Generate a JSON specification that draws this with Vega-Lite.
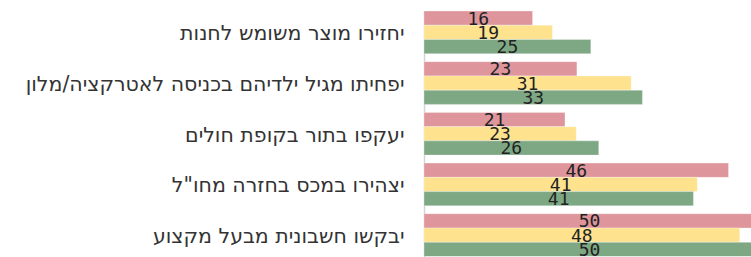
{
  "$schema": "https://vega.github.io/schema/vega-lite/v6.json",
  "autosize": "none",
  "padding": {"left": 424, "top": 11, "right": 0, "bottom": 0},
  "width": 327,
  "height": 245.5,
  "background": "white",
  "config": {"view": {"stroke": null}},
  "data": {
    "values": [
      {"item": "יחזירו מוצר משומש לחנות", "series": "1", "value": 16.4},
      {"item": "יחזירו מוצר משומש לחנות", "series": "2", "value": 19.4},
      {"item": "יחזירו מוצר משומש לחנות", "series": "3", "value": 25.2},
      {"item": "יפחיתו מגיל ילדיהם בכניסה לאטרקציה/מלון", "series": "1", "value": 23.1},
      {"item": "יפחיתו מגיל ילדיהם בכניסה לאטרקציה/מלון", "series": "2", "value": 31.3},
      {"item": "יפחיתו מגיל ילדיהם בכניסה לאטרקציה/מלון", "series": "3", "value": 33.0},
      {"item": "יעקפו בתור בקופת חולים", "series": "1", "value": 21.3},
      {"item": "יעקפו בתור בקופת חולים", "series": "2", "value": 23.0},
      {"item": "יעקפו בתור בקופת חולים", "series": "3", "value": 26.4},
      {"item": "יצהירו במכס בחזרה מחו\"ל", "series": "1", "value": 46.0},
      {"item": "יצהירו במכס בחזרה מחו\"ל", "series": "2", "value": 41.3},
      {"item": "יצהירו במכס בחזרה מחו\"ל", "series": "3", "value": 40.7},
      {"item": "יבקשו חשבונית מבעל מקצוע", "series": "1", "value": 50.0},
      {"item": "יבקשו חשבונית מבעל מקצוע", "series": "2", "value": 47.7},
      {"item": "יבקשו חשבונית מבעל מקצוע", "series": "3", "value": 50.0}
    ]
  },
  "transform": [{"calculate": "datum.value / 2", "as": "mid"}],
  "encoding": {
    "y": {
      "field": "item",
      "type": "nominal",
      "sort": null,
      "title": null,
      "scale": {"paddingInner": 0.158, "paddingOuter": 0},
      "axis": {
        "ticks": false,
        "domain": true,
        "domainColor": "#d4d4d4",
        "domainWidth": 1.5,
        "labelFont": "DejaVu Sans",
        "labelFontSize": 20.5,
        "labelColor": "#333333",
        "labelPadding": 20,
        "labelOffset": 2,
        "labelLimit": 0
      }
    },
    "yOffset": {"field": "series", "type": "nominal", "sort": ["1", "2", "3"]},
    "color": {
      "field": "series",
      "type": "nominal",
      "legend": null,
      "scale": {"domain": ["1", "2", "3"], "range": ["#de959c", "#fee28e", "#7ea884"]}
    }
  },
  "layer": [
    {
      "mark": {"type": "bar", "clip": true, "stroke": "white", "strokeWidth": 0.5, "strokeOpacity": 0.6},
      "encoding": {
        "x": {
          "field": "value",
          "type": "quantitative",
          "scale": {"domain": [0, 49.4], "nice": false, "zero": true},
          "axis": null
        }
      }
    },
    {
      "mark": {"type": "text", "font": "DejaVu Sans Mono", "fontSize": 18, "align": "center", "baseline": "alphabetic", "dy": 6.5, "color": "#222222"},
      "encoding": {
        "x": {"field": "mid", "type": "quantitative", "scale": {"domain": [0, 49.4], "nice": false, "zero": true}, "axis": null},
        "text": {"field": "value", "type": "quantitative", "format": ".0f"},
        "color": {"value": "#222222"}
      }
    }
  ]
}
